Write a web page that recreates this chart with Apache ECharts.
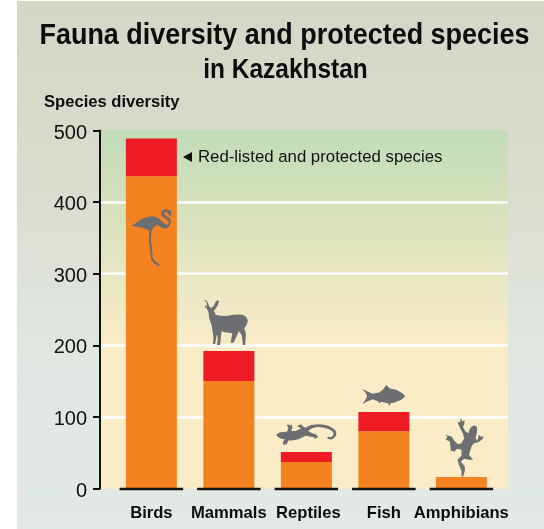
<!DOCTYPE html>
<html><head><meta charset="utf-8">
<style>html,body{margin:0;padding:0;background:#fff}#c{width:544px;height:529px}</style>
<script src="https://cdn.jsdelivr.net/npm/echarts@6/dist/echarts.min.js"></script>
</head><body><div id="c"></div>
<script>
const categories = ['Birds','Mammals','Reptiles','Fish','Amphibians'];
const otherSpecies = [436,150,37,80,16];
const redListed = [53,42,14,27,0];
const yTicks = [0,100,200,300,400,500];
const iconLevels = [350,232,75,130,58];
const iconPaths = [
 'path://M17 65 L40 50 Q55 38 78 36 Q95 37 105 47 Q115 60 125 62 Q132 58 130 50 L108 35 Q104 22 115 16 Q128 14 138 22 L138 36 L130 32 L126 24 Q116 22 116 30 L132 42 Q140 52 133 64 Q124 76 110 70 Q100 62 92 62 Q85 70 78 78 L76 105 L79 125 L82 160 L92 172 L103 178 L100 184 L87 176 L77 165 L72 125 L70 105 L71 78 Q60 72 45 68 Z',
 'path://M22 42 L14 32 L18 30 L22 36 L20 20 L12 15 L20 16 L25 24 L28 34 L34 38 L42 32 L46 22 L50 18 L53 14 L58 18 L54 30 L46 42 L42 46 L48 58 Q60 62 80 62 Q105 57 128 58 Q143 62 145 76 Q143 90 134 98 L139 115 L137 148 L130 148 L127 120 L118 107 L112 120 L102 142 L93 142 L98 114 L90 112 Q72 112 66 107 L64 120 L61 148 L52 148 L54 125 L51 117 L49 130 L46 145 L40 145 L41 125 L36 92 L28 68 L26 50 Z',
 'path://M15 62 Q20 53 35 53 L46 52 L50 42 L46 32 L52 30 L55 34 L60 30 L62 42 L58 50 L72 50 L88 42 L80 38 L76 34 L82 32 L88 30 L92 36 L100 40 Q115 30 140 30 Q170 30 188 48 Q195 62 182 72 Q170 78 163 70 L167 66 Q172 70 178 66 Q186 60 178 50 Q160 38 135 38 Q118 40 108 50 L118 56 L132 60 L138 70 L132 68 L130 74 L124 68 L112 66 L100 64 L80 74 L60 78 L50 78 L46 88 L40 90 L36 92 L34 84 L38 76 L40 74 Q25 74 15 62 Z',
 'path://M24 28 L38 35 L55 42 L75 38 L85 30 L95 16 L105 26 L125 30 L145 42 L152 50 L140 60 L120 68 L108 70 L105 78 L100 70 L80 66 L75 70 L70 64 L55 58 L38 65 L24 72 L34 58 L38 50 L34 40 Z',
 'path://M568 458 L572 470 L580 466 L578 478 L574 486 L582 500 L590 505 L596 490 Q605 478 615 485 Q620 495 612 520 L618 528 L622 510 L628 516 L637 514 L632 524 L620 532 L607 535 L600 545 L592 570 L605 585 L590 585 L578 582 L568 590 L580 605 L580 618 L575 635 L570 635 L570 618 L562 600 L558 585 L570 572 L570 555 L556 552 L550 560 L538 558 L535 530 L522 524 L528 516 L520 510 L540 515 L550 530 L560 538 L570 535 L578 520 L574 505 L566 490 L558 472 L566 472 Z'
];
const iconSizes = [[40,57],[44,45],[60,21],[43,21],[39,59]];
const iconShifts = [[0,0],[-3,0],[0,0],[0,0],[3,0]];

const FONT = '"Liberation Sans", Arial, sans-serif';
const chart = echarts.init(document.getElementById('c'), null, {renderer:'canvas'});
const grad = (stops)=>({type:'linear',x:0,y:0,x2:0,y2:1,colorStops:stops});
chart.setOption({
  animation:false,
  graphic:[
    {type:'rect',z:-10,silent:true,shape:{x:17,y:1,width:527,height:528},
      style:{fill:grad([{offset:0,color:'#d4d7c6'},{offset:.35,color:'#dadccf'},{offset:.7,color:'#e1e8e3'},{offset:1,color:'#e2eae6'}])}},
    {type:'rect',z:-9,silent:true,shape:{x:100,y:130,width:408,height:359},
      style:{fill:grad([{offset:0,color:'#c2dcb9'},{offset:.2,color:'#d4e0ba'},{offset:.42,color:'#eae7c3'},{offset:.62,color:'#fbecc8'},{offset:1,color:'#fbecc8'}])}},
    {type:'text',z:10,silent:true,x:284.5,y:36,scaleX:.93,style:{text:'Fauna diversity and protected species',fontFamily:FONT,fontWeight:'bold',fontSize:29,fill:'#0d0d0d',align:'center',verticalAlign:'middle'}},
    {type:'text',z:10,silent:true,x:285.5,y:70,scaleX:.873,style:{text:'in Kazakhstan',fontFamily:FONT,fontWeight:'bold',fontSize:28,fill:'#0d0d0d',align:'center',verticalAlign:'middle'}},
    {type:'polygon',z:10,silent:true,shape:{points:[[183,157],[192,152],[192,162]]},style:{fill:'#0d0d0d'}},
    {type:'text',z:10,silent:true,x:198,y:157.5,style:{text:'Red-listed and protected species',fontFamily:FONT,fontSize:16.8,fill:'#111111',verticalAlign:'middle'}}
  ],
  grid:[
    {left:100,top:130.5,width:408,height:358,outerBoundsMode:'none',containLabel:false},
    {left:112.6,top:130.5,width:387.5,height:358,outerBoundsMode:'none',containLabel:false}
  ],
  xAxis:[
    {gridIndex:0,type:'value',min:0,max:1,show:false},
    {gridIndex:1,type:'category',data:categories,
      axisLine:{show:false},axisTick:{show:false},
      axisLabel:{fontFamily:FONT,fontWeight:'bold',fontSize:16.6,color:'#0d0d0d',margin:16,interval:0,
        formatter:v=>v==='Reptiles'?'{r|'+v+'}':v,
        rich:{r:{fontFamily:FONT,fontWeight:'bold',fontSize:16.6,color:'#0d0d0d',padding:[0,0,0,4]}}}}
  ],
  yAxis:[
    {gridIndex:0,type:'value',min:yTicks[0],max:yTicks[yTicks.length-1],interval:100,
      name:'Species diversity',nameLocation:'end',nameGap:20,
      nameTextStyle:{fontFamily:FONT,fontWeight:'bold',fontSize:16.6,color:'#0d0d0d',align:'left',padding:[0,0,0,-56]},
      axisLine:{show:true,onZero:false,lineStyle:{color:'#111111',width:2}},
      axisTick:{show:true,length:7,lineStyle:{color:'#111111',width:2}},
      axisLabel:{fontFamily:FONT,fontSize:20,color:'#111111',margin:13,verticalAlign:'top',lineHeight:5},
      splitLine:{show:true,showMinLine:false,showMaxLine:false,lineStyle:{color:'#ffffff',width:2.5}}},
    {gridIndex:1,type:'value',min:yTicks[0],max:yTicks[yTicks.length-1],interval:100,show:false,splitLine:{show:false}}
  ],
  series:[
    {name:'Other species',type:'bar',stack:'t',xAxisIndex:1,yAxisIndex:1,barWidth:51,data:otherSpecies,itemStyle:{color:'#f58220'}},
    {name:'Red-listed and protected species',type:'bar',stack:'t',xAxisIndex:1,yAxisIndex:1,barWidth:51,data:redListed,itemStyle:{color:'#ed1c24'}},
    {name:'Baseline',type:'custom',xAxisIndex:1,yAxisIndex:1,z:5,silent:true,data:categories.map((c,i)=>[i,0]),
      renderItem(params,api){
        const p=api.coord([api.value(0),0]);
        const w=api.size([1,0])[0]*0.82;
        return {type:'line',shape:{x1:p[0]-w/2,y1:p[1]+.5,x2:p[0]+w/2,y2:p[1]+.5},style:{stroke:'#141414',lineWidth:2.5}};
      }},
    {name:'Icons',type:'scatter',xAxisIndex:1,yAxisIndex:1,z:6,silent:true,
      data:categories.map((c,i)=>({value:[i,iconLevels[i]],symbol:iconPaths[i],symbolSize:iconSizes[i],symbolOffset:iconShifts[i],symbolKeepAspect:false})),
      itemStyle:{color:'#6d6e71',opacity:1}}
  ]
});
</script></body></html>
